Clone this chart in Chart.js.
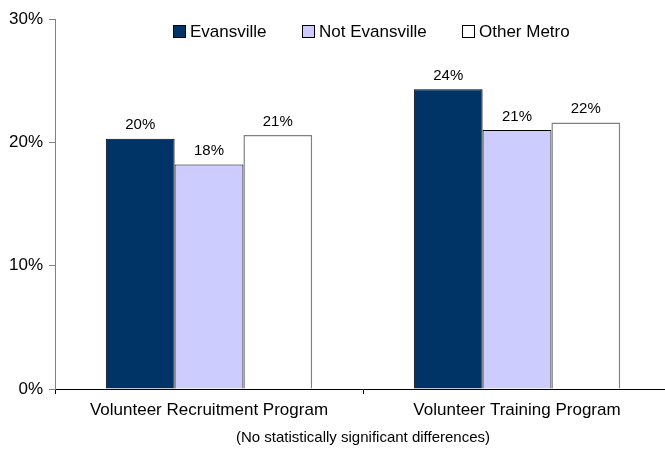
<!DOCTYPE html>
<html>
<head>
<meta charset="utf-8">
<script src="https://cdn.jsdelivr.net/npm/chart.js@4"></script>
<style>
    html, body { margin: 0; padding: 0; background: #fff; overflow: hidden; }
    #wrap { position: relative; width: 680px; height: 451px; }
    .legend-item {
        position: absolute;
        top: 22px;
        font: 17px "Liberation Sans", Arial, sans-serif;
        color: #000;
        line-height: 20px;
        white-space: nowrap;
    }
    .legend-item span.box {
        display: inline-block;
        width: 11px;
        height: 11px;
        border: 1px solid #000;
        margin-right: 4px;
        vertical-align: -1px;
    }
</style>
</head>
<body>
<div id="wrap">
    <canvas id="surveyChart"></canvas>
    <div class="legend-item" style="left:173px"><span class="box" style="background:#003366"></span>Evansville</div>
    <div class="legend-item" style="left:302px"><span class="box" style="background:#CCCCFF"></span>Not Evansville</div>
    <div class="legend-item" style="left:462px"><span class="box" style="background:#FFFFFF"></span>Other Metro</div>
</div>
<script>
const categories = ['Volunteer Recruitment Program', 'Volunteer Training Program'];
const evansville = [20.3, 24.3];
const notEvansville = [18.2, 21.0];
const otherMetro = [20.6, 21.6];
const yTicks = [0, 10, 20, 30];
const note = '(No statistically significant differences)';

const fontFamily = '"Liberation Sans", Arial, sans-serif';

// draws the rounded % above every bar
const barLabels = {
    id: 'barLabels',
    afterDatasetsDraw(chart) {
        const ctx = chart.ctx;
        ctx.save();
        ctx.font = '15px ' + fontFamily;
        ctx.fillStyle = '#000';
        ctx.textAlign = 'center';
        ctx.textBaseline = 'bottom';
        chart.data.datasets.forEach((ds, i) => {
            chart.getDatasetMeta(i).data.forEach((bar, j) => {
                ctx.fillText(Math.round(ds.data[j]) + '%', bar.x, bar.y - 6);
            });
        });
        ctx.restore();
    }
};

window.onload = function() {
    const ctx = document.getElementById('surveyChart').getContext('2d');
    new Chart(ctx, {
        type: 'bar',
        data: {
            labels: categories,
            datasets: [{
                label: 'Evansville',
                data: evansville,
                backgroundColor: '#003366',
                borderColor: '#000000',
                borderWidth: 1
            }, {
                label: 'Not Evansville',
                data: notEvansville,
                backgroundColor: '#CCCCFF',
                borderColor: '#000000',
                borderWidth: 1
            }, {
                label: 'Other Metro',
                data: otherMetro,
                backgroundColor: '#FFFFFF',
                borderColor: '#808080',
                borderWidth: 1.5
            }]
        },
        options: {
            responsive: true,
            maintainAspectRatio: false,
            animation: false,
            layout: {
                padding: { top: 19, right: 9, left: 0, bottom: 0 }
            },
            datasets: {
                bar: {
                    categoryPercentage: 0.67,
                    barPercentage: 1.0
                }
            },
            plugins: {
                legend: { display: false },
                tooltip: { enabled: false }
            },
            scales: {
                x: {
                    offset: true,
                    grid: {
                        offset: true,
                        drawOnChartArea: false,
                        tickLength: 5,
                        color: '#000'
                    },
                    border: { color: '#000', width: 1 },
                    ticks: {
                        color: '#000',
                        font: { family: fontFamily, size: 17 },
                        padding: 6,
                        maxRotation: 0
                    },
                    title: {
                        display: true,
                        text: note,
                        color: '#000',
                        font: { family: fontFamily, size: 15 },
                        padding: { top: 4, bottom: 4 }
                    },
                    afterFit(scale) { scale.height = 62; }
                },
                y: {
                    min: 0,
                    max: 30,
                    afterBuildTicks(scale) {
                        scale.ticks = yTicks.map(v => ({ value: v }));
                    },
                    grid: {
                        drawOnChartArea: false,
                        tickLength: 6,
                        color: '#808080'
                    },
                    border: { color: '#808080', width: 1 },
                    ticks: {
                        color: '#000',
                        font: { family: fontFamily, size: 17 },
                        padding: 6,
                        callback: v => v + '%'
                    },
                    afterFit(scale) { scale.width = 55; }
                }
            }
        },
        plugins: [barLabels]
    });
};
</script>
</body>
</html>
